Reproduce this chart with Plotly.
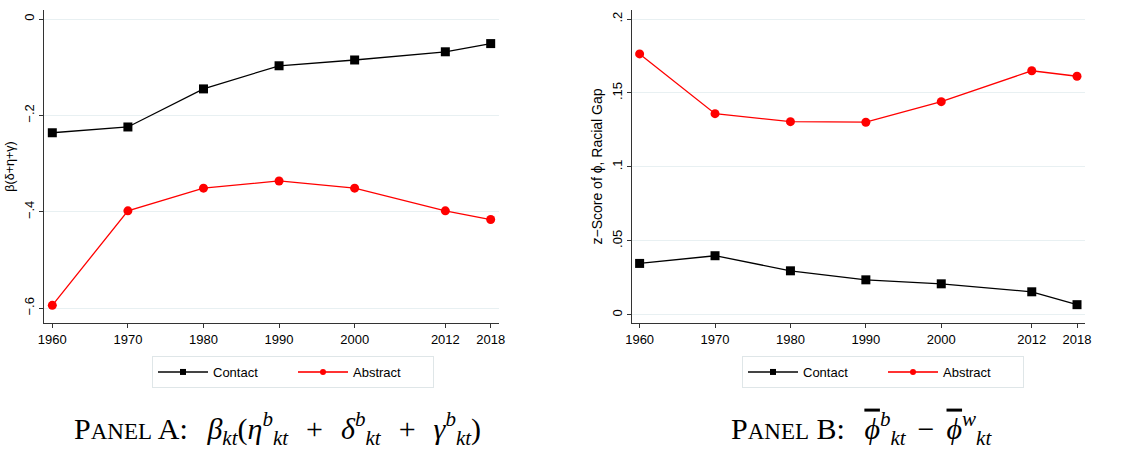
import plotly.graph_objects as go

# Census / survey years
years = [1960, 1970, 1980, 1990, 2000, 2012, 2018]
year_ticks = [1960, 1970, 1980, 1990, 2000, 2012, 2018]

# Panel A: beta_kt (eta + delta + gamma)
a_contact = [-0.236, -0.224, -0.145, -0.097, -0.085, -0.068, -0.051]
a_abstract = [-0.594, -0.398, -0.351, -0.336, -0.351, -0.398, -0.416]
a_ticks = [-0.6, -0.4, -0.2, 0.0]
a_ticktext = ["\u2212.6", "\u2212.4", "\u2212.2", "0"]

# Panel B: phi-bar (black) minus phi-bar (white)
b_contact = [0.0347, 0.0399, 0.0297, 0.0236, 0.0209, 0.0155, 0.0068]
b_abstract = [0.1764, 0.1360, 0.1306, 0.1302, 0.1441, 0.1650, 0.1613]
b_ticks = [0.0, 0.05, 0.10, 0.15, 0.20]
b_ticktext = ["0", ".05", ".1", ".15", ".2"]

W, H = 1131, 449
SANS = "Liberation Sans, Arial, sans-serif"
SERIF = "Liberation Serif, DejaVu Serif, serif"
GRID = "#e8f0f2"
AXIS = "#333333"


def px(v):
    return v / W


def py(v):
    return 1 - v / H


fig = go.Figure()

line_k = dict(color="black", width=1.3)
line_r = dict(color="#ff0000", width=1.3)

panels = [("x", "y", "legend", a_contact, a_abstract),
          ("x2", "y2", "legend2", b_contact, b_abstract)]
for xa, ya, lg, contact, abstract in panels:
    fig.add_trace(go.Scatter(x=years, y=contact, name="Contact", xaxis=xa, yaxis=ya,
                             mode="lines+markers", line=line_k, showlegend=False,
                             marker=dict(symbol="square", size=9, color="black")))
    fig.add_trace(go.Scatter(x=years, y=abstract, name="Abstract", xaxis=xa, yaxis=ya,
                             mode="lines+markers", line=line_r, showlegend=False,
                             marker=dict(symbol="circle", size=9, color="#ff0000")))
    # legend keys with smaller symbols
    fig.add_trace(go.Scatter(x=[None], y=[None], name="Contact", xaxis=xa, yaxis=ya,
                             mode="lines+markers", line=dict(color="#444444", width=2),
                             marker=dict(symbol="square", size=6, color="black"), legend=lg))
    fig.add_trace(go.Scatter(x=[None], y=[None], name="Abstract", xaxis=xa, yaxis=ya,
                             mode="lines+markers", line=dict(color="#ff3333", width=2),
                             marker=dict(symbol="circle", size=6, color="#ff0000"), legend=lg))

xcommon = dict(tickvals=year_ticks, ticktext=[str(y) for y in year_ticks],
               showgrid=False, zeroline=False, showline=True, linecolor=AXIS,
               linewidth=1, ticks="outside", ticklen=4, tickcolor=AXIS,
               tickfont=dict(family=SANS, size=13, color="black"), automargin=False)
ycommon = dict(showgrid=True, gridcolor=GRID, gridwidth=1, zeroline=False,
               showline=True, linecolor=AXIS, linewidth=1, ticks="outside",
               ticklen=4, tickcolor=AXIS, tickangle=-90,
               tickfont=dict(family=SANS, size=13, color="black"), automargin=False)

legend_common = dict(orientation="h", xanchor="left", yanchor="top",
                     bordercolor="#dfe6e8", borderwidth=1, bgcolor="white",
                     font=dict(family=SANS, size=13, color="black"), itemwidth=50,
                     entrywidth=75, tracegroupgap=0)

fig.update_layout(
    width=W, height=H,
    margin=dict(l=0, r=0, t=0, b=0),
    paper_bgcolor="white", plot_bgcolor="white",
    xaxis=dict(domain=[px(44), px(499)], range=[1958.9, 2019.1], anchor="y", **xcommon),
    yaxis=dict(domain=[py(323), py(10)], range=[-0.6307, 0.0187], anchor="x",
               tickvals=a_ticks, ticktext=a_ticktext,
               title=dict(text="\u03b2(\u03b4+\u03b7+\u03b3)",
                          font=dict(family=SANS, size=12.5, color="black"), standoff=4),
               **ycommon),
    xaxis2=dict(domain=[px(632), px(1085)], range=[1958.99, 2019.06], anchor="y2", **xcommon),
    yaxis2=dict(domain=[py(323), py(10)], range=[-0.0056, 0.2061], anchor="x2",
                tickvals=b_ticks, ticktext=b_ticktext,
                title=dict(text="z\u2212Score of \u03d5, Racial Gap",
                           font=dict(family=SANS, size=14, color="black"), standoff=3),
                **ycommon),
    legend=dict(x=px(152), y=py(356), **legend_common),
    legend2=dict(x=px(742), y=py(356), **legend_common),
    showlegend=True,
)

small = 'style="font-size:23px"'
sp = "\u2009"
plus = f"{sp}{sp}{sp}+{sp}{sp}{sp}"
title_a = (f'P<span {small}>ANEL</span> A:{sp}{sp} <i>\u03b2</i><sub><i>kt</i></sub>('
           f'<i>\u03b7</i><sup><i>b</i></sup><sub><i>kt</i></sub>{plus}'
           f'<i>\u03b4</i><sup><i>b</i></sup><sub><i>kt</i></sub>{plus}'
           f'<i>\u03b3</i><sup><i>b</i></sup><sub><i>kt</i></sub>)')
title_b = (f'P<span {small}>ANEL</span> B:{sp}{sp} '
           '<span style="text-decoration:overline"><i>\u03d5</i></span>'
           f'<sup><i>b</i></sup><sub><i>kt</i></sub>{sp}{sp}\u2212{sp}{sp}'
           '<span style="text-decoration:overline"><i>\u03d5</i></span>'
           '<sup><i>w</i></sup><sub><i>kt</i></sub>')

fig.add_annotation(x=px(277), y=py(428), xref="paper", yref="paper", text=title_a,
                   showarrow=False, font=dict(family=SERIF, size=30, color="black"),
                   xanchor="center", yanchor="middle")
fig.add_annotation(x=px(861), y=py(428), xref="paper", yref="paper", text=title_b,
                   showarrow=False, font=dict(family=SERIF, size=30, color="black"),
                   xanchor="center", yanchor="middle")

fig.write_html("out.html")
